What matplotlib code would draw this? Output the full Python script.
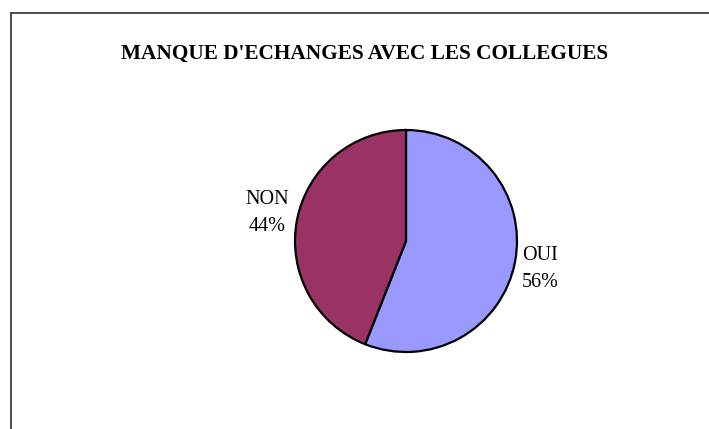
import matplotlib
matplotlib.use("Agg")
import matplotlib.pyplot as plt
from matplotlib.lines import Line2D

# data
labels = ["OUI", "NON"]
values = [56, 44]
colors = ["#9999FF", "#993366"]
title = "MANQUE D'ECHANGES AVEC LES COLLEGUES"

W, H = 709, 429
fig = plt.figure(figsize=(W / 100, H / 100), dpi=100)
ax = fig.add_axes([0, 0, 1, 1])

# pie in pixel space (y flipped so startangle/clockwise behave normally)
cx, cy, r = 406, H - 241, 111
ax.pie(values, colors=colors, startangle=90, counterclock=False,
       center=(cx, cy), radius=r,
       wedgeprops=dict(edgecolor="black", linewidth=1.6))
ax.set_xlim(0, W)
ax.set_ylim(0, H)
ax.set_axis_off()

total = sum(values)
lab_pos = {"OUI": (540, H - 269), "NON": (267, H - 213)}
for lab, v in zip(labels, values):
    x, y = lab_pos[lab]
    ax.text(x, y, f"{lab}\n{round(100 * v / total)}%", ha="center", va="center",
            fontsize=14.5, family="Liberation Serif", linespacing=1.55)

ax.text(365, H - 54, title, ha="center", va="center", fontsize=15.3,
        fontweight="bold", family="Liberation Serif")

# chart frame (only top and left edges visible in the crop)
fig.add_artist(Line2D([11 / W, 1], [1 - 12.5 / H] * 2, color="#404040", lw=1.3))
fig.add_artist(Line2D([11 / W] * 2, [0, 1 - 12.5 / H], color="#404040", lw=1.3))

fig.savefig("out.png", dpi=100)
